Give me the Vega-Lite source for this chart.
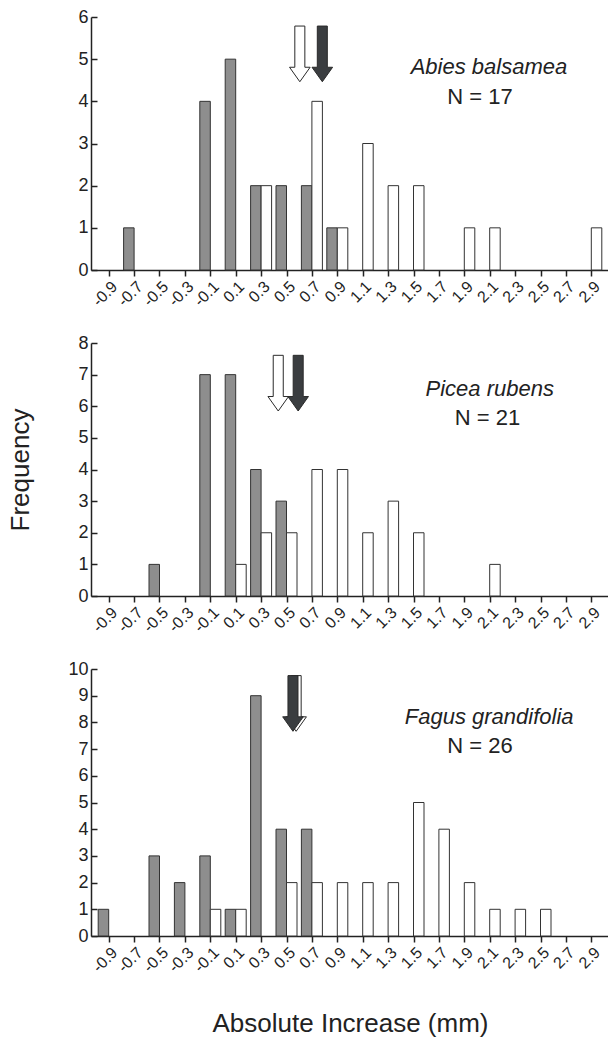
{
  "$schema": "https://vega.github.io/schema/vega-lite/v6.json",
  "background": "white",
  "padding": {"top": 8, "left": 7, "right": 0, "bottom": 0},
  "spacing": 73,
  "bounds": "flush",
  "config": {
    "view": {"stroke": null},
    "font": "Liberation Sans",
    "axis": {
      "grid": false,
      "domainColor": "#222222",
      "tickColor": "#222222",
      "labelColor": "#222222",
      "titleColor": "#222222",
      "labelFont": "Liberation Sans",
      "titleFont": "Liberation Sans",
      "titleFontWeight": "normal",
      "domainWidth": 1.5,
      "tickWidth": 1.5,
      "labelOverlap": false,
      "labelBound": false,
      "labelFlush": false,
      "tickCount": 100
    },
    "axisX": {
      "labelAngle": -45,
      "labelFontSize": 16,
      "tickSize": 6,
      "labelPadding": 2,
      "labelExpr": "datum.value < 0 ? '-' + format(-datum.value, '.1f') : format(datum.value, '.1f')"
    },
    "axisY": {
      "labelFontSize": 18,
      "tickSize": -6,
      "labelPadding": 9,
      "labelExpr": "format(datum.value, 'd')"
    }
  },
  "datasets": {
    "abies": [
      {"bin": -0.7, "group": "grey", "count": 1},
      {"bin": -0.1, "group": "grey", "count": 4},
      {"bin": 0.1, "group": "grey", "count": 5},
      {"bin": 0.3, "group": "grey", "count": 2},
      {"bin": 0.5, "group": "grey", "count": 2},
      {"bin": 0.7, "group": "grey", "count": 2},
      {"bin": 0.9, "group": "grey", "count": 1},
      {"bin": 0.3, "group": "white", "count": 2},
      {"bin": 0.7, "group": "white", "count": 4},
      {"bin": 0.9, "group": "white", "count": 1},
      {"bin": 1.1, "group": "white", "count": 3},
      {"bin": 1.3, "group": "white", "count": 2},
      {"bin": 1.5, "group": "white", "count": 2},
      {"bin": 1.9, "group": "white", "count": 1},
      {"bin": 2.1, "group": "white", "count": 1},
      {"bin": 2.9, "group": "white", "count": 1}
    ],
    "picea": [
      {"bin": -0.5, "group": "grey", "count": 1},
      {"bin": -0.1, "group": "grey", "count": 7},
      {"bin": 0.1, "group": "grey", "count": 7},
      {"bin": 0.3, "group": "grey", "count": 4},
      {"bin": 0.5, "group": "grey", "count": 3},
      {"bin": 0.1, "group": "white", "count": 1},
      {"bin": 0.3, "group": "white", "count": 2},
      {"bin": 0.5, "group": "white", "count": 2},
      {"bin": 0.7, "group": "white", "count": 4},
      {"bin": 0.9, "group": "white", "count": 4},
      {"bin": 1.1, "group": "white", "count": 2},
      {"bin": 1.3, "group": "white", "count": 3},
      {"bin": 1.5, "group": "white", "count": 2},
      {"bin": 2.1, "group": "white", "count": 1}
    ],
    "fagus": [
      {"bin": -0.9, "group": "grey", "count": 1},
      {"bin": -0.5, "group": "grey", "count": 3},
      {"bin": -0.3, "group": "grey", "count": 2},
      {"bin": -0.1, "group": "grey", "count": 3},
      {"bin": 0.1, "group": "grey", "count": 1},
      {"bin": 0.3, "group": "grey", "count": 9},
      {"bin": 0.5, "group": "grey", "count": 4},
      {"bin": 0.7, "group": "grey", "count": 4},
      {"bin": -0.1, "group": "white", "count": 1},
      {"bin": 0.1, "group": "white", "count": 1},
      {"bin": 0.5, "group": "white", "count": 2},
      {"bin": 0.7, "group": "white", "count": 2},
      {"bin": 0.9, "group": "white", "count": 2},
      {"bin": 1.1, "group": "white", "count": 2},
      {"bin": 1.3, "group": "white", "count": 2},
      {"bin": 1.5, "group": "white", "count": 5},
      {"bin": 1.7, "group": "white", "count": 4},
      {"bin": 1.9, "group": "white", "count": 2},
      {"bin": 2.1, "group": "white", "count": 1},
      {"bin": 2.3, "group": "white", "count": 1},
      {"bin": 2.5, "group": "white", "count": 1}
    ],
    "abies_means": [
      {"kind": "white", "mean": 0.605},
      {"kind": "dark", "mean": 0.782}
    ],
    "picea_means": [
      {"kind": "white", "mean": 0.435},
      {"kind": "dark", "mean": 0.592}
    ],
    "fagus_means": [
      {"kind": "white", "mean": 0.576},
      {"kind": "dark", "mean": 0.551}
    ]
  },
  "vconcat": [
    {
      "width": 518,
      "height": 253,
      "layer": [
        {
          "data": {"name": "abies"},
          "transform": [{"filter": "datum.group == 'grey'"}],
          "mark": {"type": "bar", "orient": "vertical", "width": 10.5, "xOffset": -5.25, "fill": "#8e8e8e", "stroke": "#333333", "strokeWidth": 1},
          "encoding": {
            "x": {"field": "bin", "type": "quantitative", "scale": {"domain": [-1, 3], "nice": false, "zero": false},
                  "axis": {"title": null, "tickCount": 100, "values": [-0.9, -0.7, -0.5, -0.3, -0.1, 0.1, 0.3, 0.5, 0.7, 0.9, 1.1, 1.3, 1.5, 1.7, 1.9, 2.1, 2.3, 2.5, 2.7, 2.9]}},
            "y": {"field": "count", "type": "quantitative", "stack": null, "scale": {"domain": [0, 6], "nice": false},
                  "axis": {"title": null, "tickCount": 100, "values": [0, 1, 2, 3, 4, 5, 6]}}
          }
        },
        {
          "data": {"name": "abies"},
          "transform": [{"filter": "datum.group == 'white'"}],
          "mark": {"type": "bar", "orient": "vertical", "width": 10.5, "xOffset": 5.25, "fill": "#ffffff", "stroke": "#333333", "strokeWidth": 1},
          "encoding": {
            "x": {"field": "bin", "type": "quantitative"},
            "y": {"field": "count", "type": "quantitative", "stack": null}
          }
        },
        {
          "data": {"name": "abies_means"},
          "mark": {"type": "point", "filled": true, "opacity": 1, "size": 3100, "stroke": "#2a2a2a", "strokeWidth": 1,
                   "shape": "M-0.18,-1L0.18,-1L0.18,0.48L0.37,0.48L0,1L-0.37,0.48L-0.18,0.48Z"},
          "encoding": {
            "x": {"field": "mean", "type": "quantitative"},
            "y": {"datum": 5.125},
            "fill": {"field": "kind", "type": "nominal", "scale": {"domain": ["white", "dark"], "range": ["#ffffff", "#3a3d40"]}, "legend": null}
          }
        },
        {
          "data": {"values": [{"label": "Abies balsamea"}]},
          "mark": {"type": "text", "font": "Liberation Sans", "fontStyle": "italic", "fontSize": 22, "color": "#222222", "align": "center", "baseline": "middle"},
          "encoding": {"x": {"datum": 2.094}, "y": {"datum": 4.815}, "text": {"field": "label"}}
        },
        {
          "data": {"values": [{"label": "N = 17"}]},
          "mark": {"type": "text", "font": "Liberation Sans", "fontSize": 22, "color": "#222222", "align": "center", "baseline": "middle"},
          "encoding": {"x": {"datum": 2.024}, "y": {"datum": 4.11}, "text": {"field": "label"}}
        }
      ]
    },
    {
      "width": 518,
      "height": 253,
      "layer": [
        {
          "data": {"name": "picea"},
          "transform": [{"filter": "datum.group == 'grey'"}],
          "mark": {"type": "bar", "orient": "vertical", "width": 10.5, "xOffset": -5.25, "fill": "#8e8e8e", "stroke": "#333333", "strokeWidth": 1},
          "encoding": {
            "x": {"field": "bin", "type": "quantitative", "scale": {"domain": [-1, 3], "nice": false, "zero": false},
                  "axis": {"title": null, "tickCount": 100, "values": [-0.9, -0.7, -0.5, -0.3, -0.1, 0.1, 0.3, 0.5, 0.7, 0.9, 1.1, 1.3, 1.5, 1.7, 1.9, 2.1, 2.3, 2.5, 2.7, 2.9]}},
            "y": {"field": "count", "type": "quantitative", "stack": null, "scale": {"domain": [0, 8], "nice": false},
                  "axis": {"title": "Frequency", "titleFontSize": 26, "titlePadding": 44, "tickCount": 100, "values": [0, 1, 2, 3, 4, 5, 6, 7, 8]}}
          }
        },
        {
          "data": {"name": "picea"},
          "transform": [{"filter": "datum.group == 'white'"}],
          "mark": {"type": "bar", "orient": "vertical", "width": 10.5, "xOffset": 5.25, "fill": "#ffffff", "stroke": "#333333", "strokeWidth": 1},
          "encoding": {
            "x": {"field": "bin", "type": "quantitative"},
            "y": {"field": "count", "type": "quantitative", "stack": null}
          }
        },
        {
          "data": {"name": "picea_means"},
          "mark": {"type": "point", "filled": true, "opacity": 1, "size": 3100, "stroke": "#2a2a2a", "strokeWidth": 1,
                   "shape": "M-0.18,-1L0.18,-1L0.18,0.48L0.37,0.48L0,1L-0.37,0.48L-0.18,0.48Z"},
          "encoding": {
            "x": {"field": "mean", "type": "quantitative"},
            "y": {"datum": 6.73},
            "fill": {"field": "kind", "type": "nominal", "scale": {"domain": ["white", "dark"], "range": ["#ffffff", "#3a3d40"]}, "legend": null}
          }
        },
        {
          "data": {"values": [{"label": "Picea rubens"}]},
          "mark": {"type": "text", "font": "Liberation Sans", "fontStyle": "italic", "fontSize": 22, "color": "#222222", "align": "center", "baseline": "middle"},
          "encoding": {"x": {"datum": 2.1}, "y": {"datum": 6.56}, "text": {"field": "label"}}
        },
        {
          "data": {"values": [{"label": "N = 21"}]},
          "mark": {"type": "text", "font": "Liberation Sans", "fontSize": 22, "color": "#222222", "align": "center", "baseline": "middle"},
          "encoding": {"x": {"datum": 2.083}, "y": {"datum": 5.63}, "text": {"field": "label"}}
        }
      ]
    },
    {
      "width": 518,
      "height": 267,
      "layer": [
        {
          "data": {"name": "fagus"},
          "transform": [{"filter": "datum.group == 'grey'"}],
          "mark": {"type": "bar", "orient": "vertical", "width": 10.5, "xOffset": -5.25, "fill": "#8e8e8e", "stroke": "#333333", "strokeWidth": 1},
          "encoding": {
            "x": {"field": "bin", "type": "quantitative", "scale": {"domain": [-1, 3], "nice": false, "zero": false},
                  "axis": {"title": "Absolute Increase (mm)", "titleFontSize": 26, "titlePadding": 36, "tickCount": 100, "values": [-0.9, -0.7, -0.5, -0.3, -0.1, 0.1, 0.3, 0.5, 0.7, 0.9, 1.1, 1.3, 1.5, 1.7, 1.9, 2.1, 2.3, 2.5, 2.7, 2.9]}},
            "y": {"field": "count", "type": "quantitative", "stack": null, "scale": {"domain": [0, 10], "nice": false},
                  "axis": {"title": null, "tickCount": 100, "values": [0, 1, 2, 3, 4, 5, 6, 7, 8, 9, 10]}}
          }
        },
        {
          "data": {"name": "fagus"},
          "transform": [{"filter": "datum.group == 'white'"}],
          "mark": {"type": "bar", "orient": "vertical", "width": 10.5, "xOffset": 5.25, "fill": "#ffffff", "stroke": "#333333", "strokeWidth": 1},
          "encoding": {
            "x": {"field": "bin", "type": "quantitative"},
            "y": {"field": "count", "type": "quantitative", "stack": null}
          }
        },
        {
          "data": {"name": "fagus_means"},
          "mark": {"type": "point", "filled": true, "opacity": 1, "size": 3100, "stroke": "#2a2a2a", "strokeWidth": 1,
                   "shape": "M-0.18,-1L0.18,-1L0.18,0.48L0.37,0.48L0,1L-0.37,0.48L-0.18,0.48Z"},
          "encoding": {
            "x": {"field": "mean", "type": "quantitative"},
            "y": {"datum": 8.71},
            "fill": {"field": "kind", "type": "nominal", "scale": {"domain": ["white", "dark"], "range": ["#ffffff", "#3a3d40"]}, "legend": null}
          }
        },
        {
          "data": {"values": [{"label": "Fagus grandifolia"}]},
          "mark": {"type": "text", "font": "Liberation Sans", "fontStyle": "italic", "fontSize": 22, "color": "#222222", "align": "center", "baseline": "middle"},
          "encoding": {"x": {"datum": 2.096}, "y": {"datum": 8.2}, "text": {"field": "label"}}
        },
        {
          "data": {"values": [{"label": "N = 26"}]},
          "mark": {"type": "text", "font": "Liberation Sans", "fontSize": 22, "color": "#222222", "align": "center", "baseline": "middle"},
          "encoding": {"x": {"datum": 2.024}, "y": {"datum": 7.1}, "text": {"field": "label"}}
        }
      ]
    }
  ]
}
